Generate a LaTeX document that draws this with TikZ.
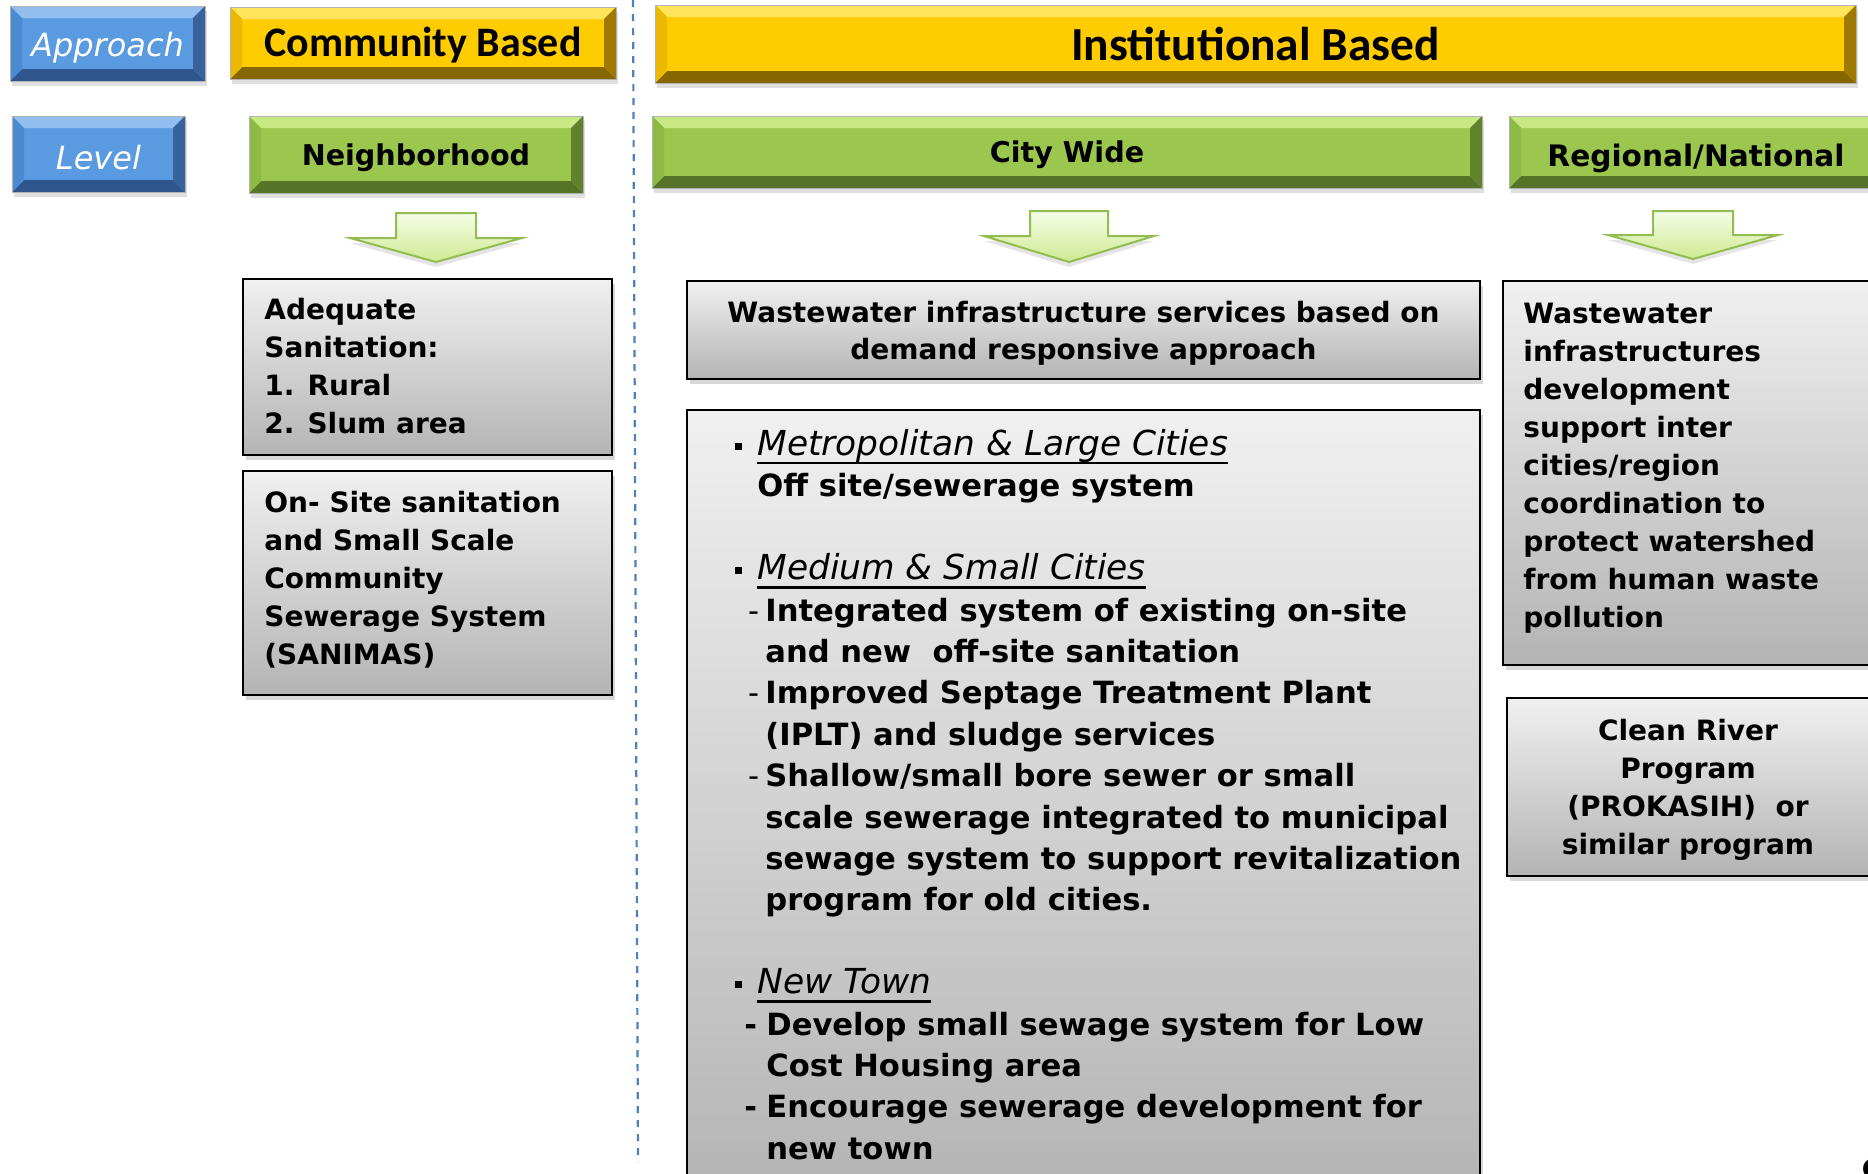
\documentclass[tikz,border=0pt]{standalone}
\usepackage{fontspec}
\setmainfont{DejaVu Sans}
\newfontfamily\calibri{Carlito}
\usetikzlibrary{shadows}

% bevel colours: face, top, left, right, bottom
\definecolor{yelFace}{HTML}{FFCC00}
\definecolor{yelTop}{HTML}{FFE45C}
\definecolor{yelLeft}{HTML}{EDB800}
\definecolor{yelRight}{HTML}{A07A00}
\definecolor{yelBot}{HTML}{866600}
\definecolor{grnFace}{HTML}{9CC74F}
\definecolor{grnTop}{HTML}{C9E985}
\definecolor{grnLeft}{HTML}{8DBA44}
\definecolor{grnRight}{HTML}{61822D}
\definecolor{grnBot}{HTML}{55742A}
\definecolor{bluFace}{HTML}{5A9AE0}
\definecolor{bluTop}{HTML}{92BEF0}
\definecolor{bluLeft}{HTML}{4B89D1}
\definecolor{bluRight}{HTML}{38629C}
\definecolor{bluBot}{HTML}{2F568C}
% grey boxes, block arrows, separator
\definecolor{boxTop}{HTML}{F0F0F0}
\definecolor{boxBot}{HTML}{B4B4B4}
\definecolor{arrTop}{HTML}{F5FDE8}
\definecolor{arrBot}{HTML}{CFEA92}
\definecolor{arrLine}{HTML}{93BD52}
\definecolor{sepBlue}{HTML}{4F81BD}

\newcommand\lineTop[1]{\rule{0pt}{#1}}
\newcommand\myul[1]{\setbox0\hbox{#1}\rlap{\rule[-4.5pt]{\wd0}{1.1pt}}\box0}
\newcommand\sqbul{\makebox[11pt][l]{\raisebox{2.8pt}{\rule{3.5pt}{3.5pt}}}}
\newcommand\listhead[1]{\myul{\mdseries\itshape\fontsize{17.2}{20.7}\selectfont #1}}

\tikzset{
  bevelbox/.style n args={5}{
    rectangle, inner sep=0pt, fill=#1, draw=black!30, line width=0.5pt,
    text depth=0pt,
    drop shadow={shadow xshift=1pt, shadow yshift=-2.5pt, opacity=0.25},
    path picture={
      \coordinate (pNW) at (path picture bounding box.north west);
      \coordinate (pNE) at (path picture bounding box.north east);
      \coordinate (pSW) at (path picture bounding box.south west);
      \coordinate (pSE) at (path picture bounding box.south east);
      \fill[#2] (pNW) -- (pNE) -- ([xshift=-6pt,yshift=-6pt]pNE) -- ([xshift=6pt,yshift=-6pt]pNW) -- cycle;
      \fill[#5] (pSW) -- (pSE) -- ([xshift=-6pt,yshift=6pt]pSE) -- ([xshift=6pt,yshift=6pt]pSW) -- cycle;
      \fill[#3] (pNW) -- ([xshift=6pt,yshift=-6pt]pNW) -- ([xshift=6pt,yshift=6pt]pSW) -- (pSW) -- cycle;
      \fill[#4] (pNE) -- ([xshift=-6pt,yshift=-6pt]pNE) -- ([xshift=-6pt,yshift=6pt]pSE) -- (pSE) -- cycle;
    }
  },
  yellowbar/.style={bevelbox={yelFace}{yelTop}{yelLeft}{yelRight}{yelBot},
    text height=13.8pt, font=\calibri\bfseries\fontsize{21}{21}\selectfont},
  greenbar/.style={bevelbox={grnFace}{grnTop}{grnLeft}{grnRight}{grnBot},
    text height=10.8pt, font=\bfseries\fontsize{14.3}{14.3}\selectfont},
  bluebar/.style={bevelbox={bluFace}{bluTop}{bluLeft}{bluRight}{bluBot},
    text=white, text height=13.2pt, font=\itshape\fontsize{16}{16}\selectfont},
  greybox/.style={rectangle, inner sep=0pt, draw=black, line width=1pt,
    top color=boxTop, bottom color=boxBot,
    drop shadow={shadow xshift=1.5pt, shadow yshift=-2.5pt, opacity=0.3}},
  boxtext/.style={anchor=north west, inner sep=0pt, align=left,
    font=\bfseries\fontsize{14}{19}\selectfont},
  listtext/.style={anchor=north west, inner sep=0pt, align=left,
    font=\bfseries\fontsize{15.3}{20.7}\selectfont},
  blockarrow/.style={draw=arrLine, line width=1pt, line join=miter,
    top color=arrTop, bottom color=arrBot,
    drop shadow={shadow xshift=0pt, shadow yshift=-2.5pt, opacity=0.2}},
  sepline/.style={sepBlue, line width=1.1pt, dash pattern=on 3.5pt off 3.5pt}
}

\begin{document}
\begin{tikzpicture}[x=0.5pt,y=-0.5pt]
\path[use as bounding box, fill=white] (0,0) rectangle (1868,1173);

% separator between the two approaches
\coordinate (sepTop) at (633,0);
\coordinate (sepBot) at (638,1162);
\draw[sepline] (sepTop) -- (sepBot);

% row headers
\node[bluebar, minimum width=97.5pt, minimum height=37.5pt] (approach) at (107.5,43.5) {Approach};
\node[bluebar, minimum width=86.5pt, minimum height=38pt, text height=15.8pt] (level) at (98.5,154) {Level};

% approach bars
\node[yellowbar, minimum width=193pt, minimum height=36pt] (community) at (423,43) {Community Based};
\node[yellowbar, minimum width=600.5pt, minimum height=39pt, text height=16.4pt,
  font=\calibri\bfseries\fontsize{23.7}{23.7}\selectfont] (institutional) at (1255.5,44) {Institutional Based};

% level bars
\node[greenbar, minimum width=167pt, minimum height=38.5pt] (neighborhood) at (416,154.5) {Neighborhood};
\node[greenbar, minimum width=415pt, minimum height=36pt] (citywide) at (1067,152) {City Wide};
\node[greenbar, minimum width=187pt, minimum height=36pt, text height=14pt,
  font=\bfseries\fontsize{14.8}{14.8}\selectfont] (regional) at (1696,152) {Regional/National};

% block arrows under the level bars
\draw[blockarrow] (396,213) -- (476,213) -- (476,238) -- (522,238) -- (436,262)
  -- (350,238) -- (396,238) -- cycle;
\draw[blockarrow] (1030,211) -- (1108,211) -- (1108,236) -- (1154,236) -- (1069,262)
  -- (984,236) -- (1030,236) -- cycle;
\draw[blockarrow] (1653,211) -- (1733,211) -- (1733,235) -- (1778,235) -- (1693,259)
  -- (1608,235) -- (1653,235) -- cycle;

% neighborhood column
\node[greybox, minimum width=184.5pt, minimum height=88pt] (adequate) at (427.5,367) {};
\node[boxtext] (adequateText) at (264,295)
  {\lineTop{12pt}Adequate\\Sanitation:\\1. Rural\\2. Slum area};
\node[greybox, minimum width=184.5pt, minimum height=112pt] (onsite) at (427.5,583) {};
\node[boxtext] (onsiteText) at (264,488)
  {\lineTop{12pt}On- Site sanitation\\and Small Scale\\Community\\Sewerage System\\(SANIMAS)};

% city wide column
\node[greybox, minimum width=396.5pt, minimum height=49pt] (services) at (1083.5,330) {};
\node[boxtext, anchor=north, align=center, font=\bfseries\fontsize{14}{18.5}\selectfont]
  (servicesText) at (1083.5,298)
  {\lineTop{12pt}Wastewater infrastructure services based on\\demand responsive approach};
\node[greybox, minimum width=396.5pt, minimum height=395pt] (cities) at (1083.5,805) {};
\node[listtext] (citiesText) at (735,425)
  {\lineTop{15pt}\sqbul\listhead{Metropolitan \& Large Cities}\\
   \hspace*{11pt}Off site/sewerage system\\
   \mbox{}\\
   \sqbul\listhead{Medium \& Small Cities}\\
   \hspace*{6.5pt}\makebox[8.5pt][l]{\mdseries -}Integrated system of existing on-site\\
   \hspace*{15pt}and new\ \ off-site sanitation\\
   \hspace*{6.5pt}\makebox[8.5pt][l]{\mdseries -}Improved Septage Treatment Plant\\
   \hspace*{15pt}(IPLT) and sludge services\\
   \hspace*{6.5pt}\makebox[8.5pt][l]{\mdseries -}Shallow/small bore sewer or small\\
   \hspace*{15pt}scale sewerage integrated to municipal\\
   \hspace*{15pt}sewage system to support revitalization\\
   \hspace*{15pt}program for old cities.\\
   \mbox{}\\
   \sqbul\listhead{New Town}\\
   \hspace*{4.5pt}\makebox[11pt][l]{-}Develop small sewage system for Low\\
   \hspace*{15.5pt}Cost Housing area\\
   \hspace*{4.5pt}\makebox[11pt][l]{-}Encourage sewerage development for\\
   \hspace*{15.5pt}new town};

% regional column
\node[greybox, minimum width=193.5pt, minimum height=192pt] (watershed) at (1696.5,473) {};
\node[boxtext] (watershedText) at (1523,299)
  {\lineTop{12pt}Wastewater\\infrastructures\\development\\support inter\\cities/region\\coordination to\\protect watershed\\from human waste\\pollution};
\node[greybox, minimum width=184pt, minimum height=89pt] (cleanriver) at (1691,787) {};
\node[boxtext, anchor=north, align=center] (cleanriverText) at (1688,716)
  {\lineTop{12pt}Clean River\\Program\\(PROKASIH)\ \ or\\similar program};

% slide number
\node[anchor=north west, inner sep=0pt, font=\bfseries\fontsize{20}{20}\selectfont] (pagenum) at (1861,1158) {9};
\end{tikzpicture}
\end{document}
